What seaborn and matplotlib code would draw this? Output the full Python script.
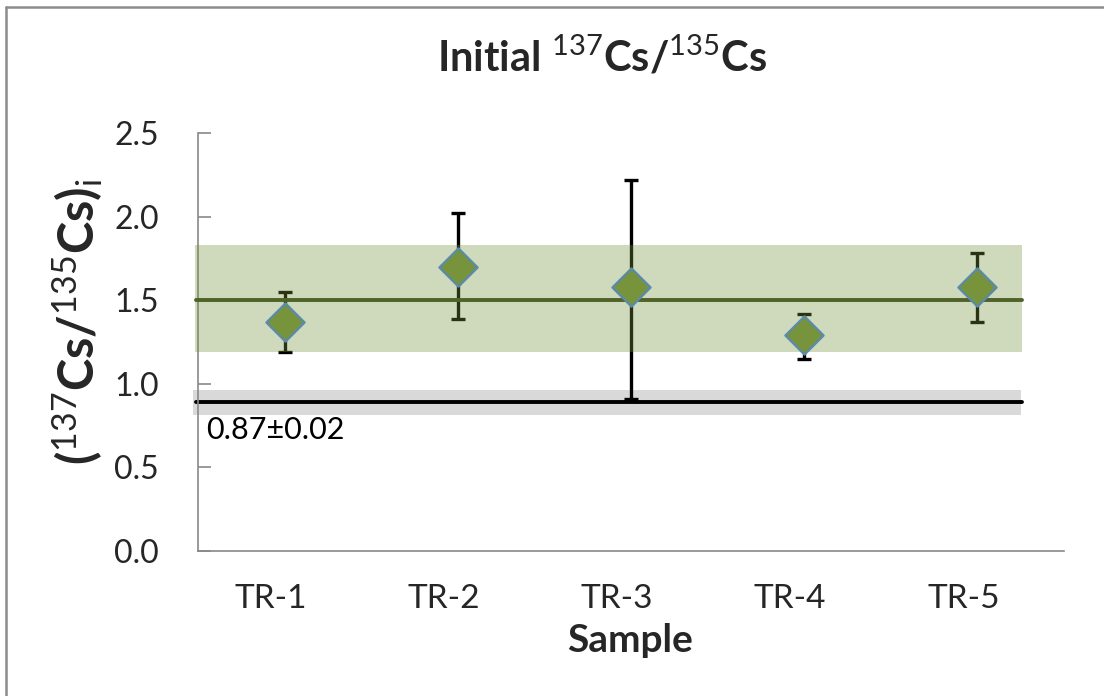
import numpy as np
import pandas as pd
import matplotlib
matplotlib.use("Agg")
import matplotlib.pyplot as plt
import matplotlib.transforms as mtransforms
from matplotlib.lines import Line2D
import seaborn as sns

# ---- data ----
samples = ["TR-1", "TR-2", "TR-3", "TR-4", "TR-5"]
ratio = [1.37, 1.70, 1.58, 1.29, 1.58]
err_upper = [1.55, 2.02, 2.22, 1.42, 1.78]
err_lower = [1.19, 1.39, 0.91, 1.15, 1.37]
mean_value = 1.50
mean_band = [1.19, 1.83]
ref_value = 0.89
ref_band = [0.815, 0.964]
ref_label = "0.87±0.02"
yticks = [0.0, 0.5, 1.0, 1.5, 2.0, 2.5]

sns.set_theme(style="white")
plt.rcParams["font.family"] = ["Lato", "DejaVu Sans"]
plt.rcParams["mathtext.fontset"] = "custom"
plt.rcParams["mathtext.rm"] = "Lato"
plt.rcParams["mathtext.it"] = "Lato:italic"
plt.rcParams["mathtext.bf"] = "Lato:bold"

df = pd.DataFrame({"sample": samples, "ratio": ratio})
pos = np.arange(len(samples))
yerr = np.array([np.array(ratio) - np.array(err_lower),
                 np.array(err_upper) - np.array(ratio)])

fig = plt.figure(figsize=(11.04, 6.96), dpi=100)
ax = fig.add_axes([198 / 1104, 1 - 551 / 696, 866 / 1104, 418 / 696])

# error bars (under the translucent band)
ax.errorbar(pos, ratio, yerr=yerr, fmt="none", ecolor="black",
            elinewidth=2.4, capsize=5, capthick=2.4, zorder=2)

# reference band and line
ax.axhspan(ref_band[0], ref_band[1], xmin=-0.006, xmax=0.950,
           color="#D9D9D9", lw=0, zorder=1, clip_on=False)
ax.axhline(ref_value, xmin=-0.002, xmax=0.951, color="black", lw=2.8,
           zorder=1.5, clip_on=False)

# mean band and line
ax.axhspan(mean_band[0], mean_band[1], xmin=-0.004, xmax=0.951,
           color="#77933C", alpha=0.35, lw=0, zorder=3, clip_on=False)
ax.axhline(mean_value, xmin=-0.002, xmax=0.951, color="#4F6228", lw=2.8,
           zorder=3.5, clip_on=False)

# points
sns.scatterplot(data=df, x="sample", y="ratio", ax=ax, marker="D", s=380,
                color="#77933C", edgecolor="#5A8AAE", linewidth=1.6,
                zorder=5, legend=False)

ax.text(0.009, 0.672, ref_label,
        transform=mtransforms.blended_transform_factory(ax.transAxes, ax.transData),
        fontsize=22, ha="left", va="baseline", color="black", zorder=6)

ax.set_xlim(-0.5, len(samples) - 0.5)
ax.set_ylim(0, 2.5)
ax.set_yticks(yticks)
ax.set_yticklabels([f"{v:.1f}" for v in yticks])
ax.set_xticks(pos)
ax.set_xticklabels(samples)
ax.set_xlabel("")
ax.set_ylabel("")

for side in ["top", "right"]:
    ax.spines[side].set_visible(False)
for side in ["left", "bottom"]:
    ax.spines[side].set_color("#898989")
    ax.spines[side].set_linewidth(1.2)

ax.tick_params(axis="y", direction="in", length=9, width=1.2, color="#898989",
               labelsize=23, pad=28, left=True)
ax.tick_params(axis="x", length=0, labelsize=24, pad=24, bottom=False)

off = mtransforms.ScaledTranslation(-14 / 100, 0, fig.dpi_scale_trans)
for lab in ax.get_xticklabels():
    lab.set_transform(lab.get_transform() + off)

# titles
fig.text(602 / 1104, 1 - 72 / 696, r"Initial $^{137}$Cs/$^{135}$Cs",
         fontsize=30, fontweight="bold", ha="center", va="baseline")
fig.text(630 / 1104, 1 - 652 / 696, "Sample", fontsize=28, fontweight="bold",
         ha="center", va="baseline")
fig.text(78 / 1104, 1 - 322 / 696, r"($^{137}$Cs/$^{135}$Cs)$_{\mathrm{i}}$",
         fontsize=35, fontweight="bold", ha="center", va="center", rotation=90)

# outer frame (left and top edges)
fig.add_artist(Line2D([6 / 1104, 6 / 1104], [0, 1 - 7 / 696], transform=fig.transFigure,
                      color="#8C8C8C", lw=1.8))
fig.add_artist(Line2D([6 / 1104, 1], [1 - 7 / 696, 1 - 7 / 696], transform=fig.transFigure,
                      color="#8C8C8C", lw=1.8))

fig.savefig("out.png", dpi=100, facecolor="white")
